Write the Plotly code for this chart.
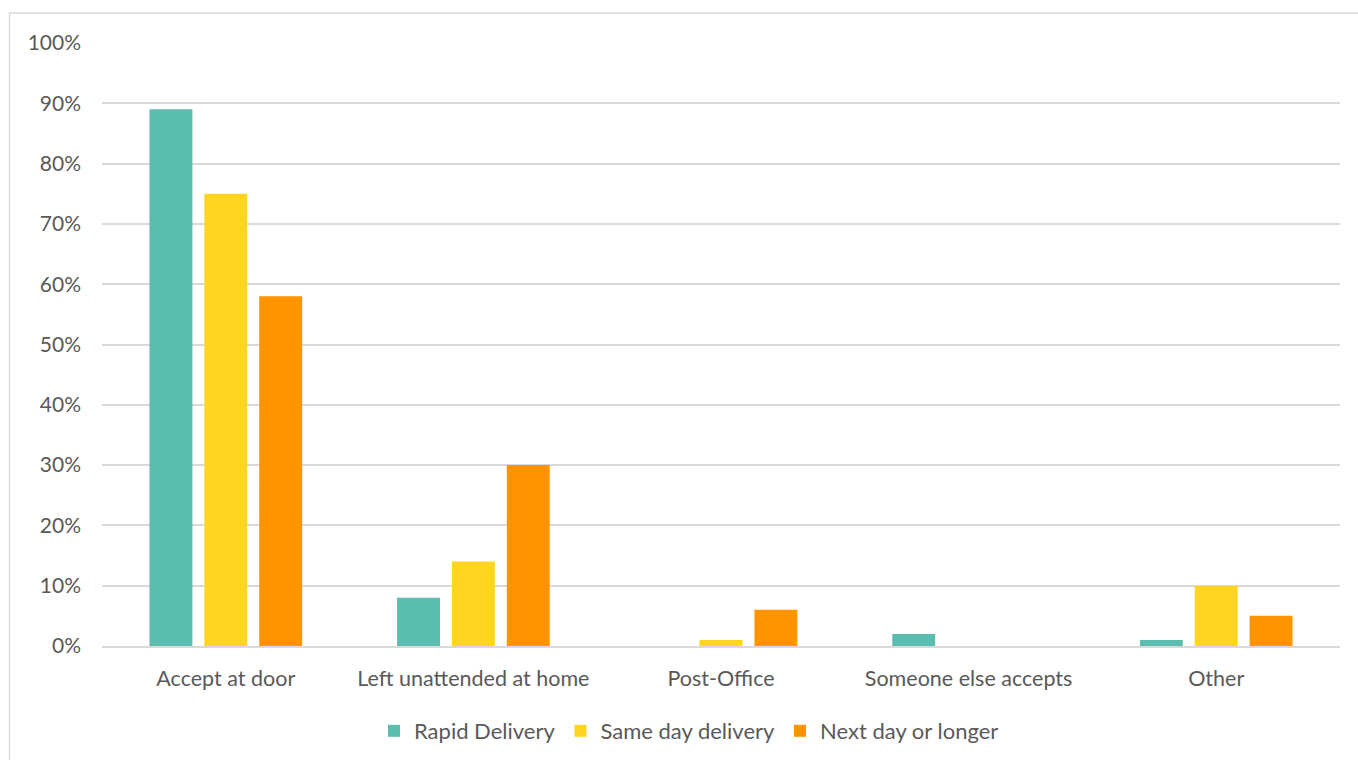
import plotly.graph_objects as go

categories = ["Accept at door", "Left unattended at home", "Post-Office", "Someone else accepts", "Other"]
rapid_delivery = [0.89, 0.08, 0.00, 0.02, 0.01]
same_day_delivery = [0.75, 0.14, 0.01, 0.00, 0.10]
next_day_or_longer = [0.58, 0.30, 0.06, 0.00, 0.05]
y_ticks = [0, 0.1, 0.2, 0.3, 0.4, 0.5, 0.6, 0.7, 0.8, 0.9, 1.0]

W, H = 1358, 760
L, R, T, B = 102, 18, 43, 114
pw, ph = W - L - R, H - T - B

def px_x(px):
    return (px - L) / pw

def px_y(py):
    return (H - B - py) / ph

FONT = "Lato, 'Open Sans', sans-serif"
GREY = "#595959"

series = [
    ("Rapid Delivery", rapid_delivery, "#5BBDAF"),
    ("Same day delivery", same_day_delivery, "#FFD520"),
    ("Next day or longer", next_day_or_longer, "#FF9400"),
]

fig = go.Figure()
for name, vals, color in series:
    fig.add_trace(go.Bar(
        name=name, x=categories, y=vals,
        marker=dict(color=color, line=dict(width=0)),
    ))

fig.update_layout(
    width=W, height=H,
    margin=dict(l=L, r=R, t=T, b=B, autoexpand=False),
    paper_bgcolor="white", plot_bgcolor="white",
    barmode="group", bargap=0.335, bargroupgap=0.218,
    font=dict(family=FONT, size=21, color=GREY),
    showlegend=True,
    legend=dict(
        orientation="h", x=px_x(374), xanchor="left",
        y=px_y(731), yanchor="middle",
        font=dict(family=FONT, size=22, color=GREY),
        itemsizing="constant", itemwidth=30,
        traceorder="normal",
    ),
    xaxis=dict(
        showgrid=False, showline=True, linecolor="#d9d9d9", linewidth=1.5,
        ticks="", ticklabelstandoff=12, automargin=False,
        tickfont=dict(family=FONT, size=21.5, color=GREY),
    ),
    yaxis=dict(
        range=[0, 1.0], tickvals=y_ticks, tickformat=".0%",
        showgrid=True, gridcolor="#d9d9d9", gridwidth=1.5,
        zeroline=False, showline=False, ticks="", ticklabelstandoff=20,
        automargin=False,
        tickfont=dict(family=FONT, size=21, color=GREY),
    ),
    shapes=[dict(
        type="rect", xref="paper", yref="paper",
        x0=px_x(9.5), x1=px_x(1362), y0=px_y(770), y1=px_y(13),
        line=dict(color="#d9d9d9", width=1.5), fillcolor="rgba(0,0,0,0)",
        layer="below",
    )],
)

fig.write_html("out.html")
